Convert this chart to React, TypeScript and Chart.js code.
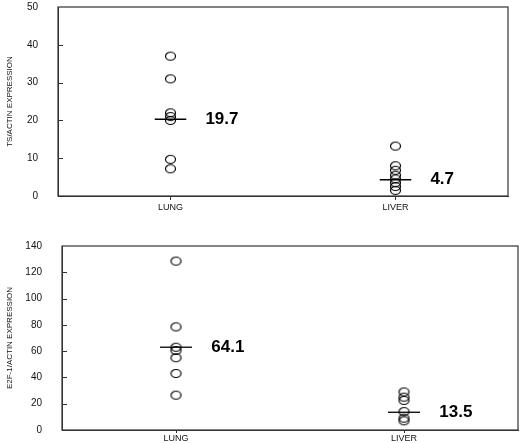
import React, { useEffect, useRef } from "react";
import { Chart, registerables } from "chart.js";

Chart.register(...registerables);

// ---- data ----
const categories = ["LUNG", "LIVER"];
const categoryPositions = [1, 3];

// Top panel: TS/ACTIN expression
const tsLung = [37, 31, 22, 21, 20, 9.7, 7.2];
const tsLiver = [13.2, 8, 6.8, 5.5, 4.5, 3.5, 2.5, 1.5];
const tsMeans = [20.3, 4.3];
const tsMeanLabels = ["19.7", "4.7"];
const tsTicks = [0, 10, 20, 30, 40, 50];

// Bottom panel: E2F-1/ACTIN expression
const e2fLung = [128.5, 78.5, 63, 60.5, 55, 43, 26.5];
const e2fLiver = [29, 25, 22.5, 14, 9, 7];
const e2fMeans = [63, 13.5];
const e2fMeanLabels = ["64.1", "13.5"];
const e2fTicks = [0, 20, 40, 60, 80, 100, 120, 140];

const FONT = "'Liberation Sans', Arial, sans-serif";
const INK = "#111";

function makeEllipse(): HTMLCanvasElement {
  const c = document.createElement("canvas");
  c.width = 13;
  c.height = 11;
  const g = c.getContext("2d")!;
  g.strokeStyle = "#000";
  g.lineWidth = 1.2;
  g.beginPath();
  g.ellipse(6.5, 5.5, 5, 4, 0, 0, Math.PI * 2);
  g.stroke();
  return c;
}

const boxPlugin = {
  id: "boxPlugin",
  afterDraw(chart: any) {
    const { ctx, chartArea } = chart;
    const ys = chart.scales.y;
    ctx.save();
    ctx.strokeStyle = "#333";
    ctx.lineWidth = 1.2;
    ctx.strokeRect(chartArea.left, chartArea.top, chartArea.right - chartArea.left, chartArea.bottom - chartArea.top);
    // inward tick marks on the y axis
    ctx.lineWidth = 1;
    ctx.beginPath();
    ys.ticks.forEach((t: any, i: number) => {
      if (i === 0 || i === ys.ticks.length - 1) return;
      const y = Math.round(ys.getPixelForValue(t.value)) + 0.5;
      ctx.moveTo(chartArea.left, y);
      ctx.lineTo(chartArea.left + 5, y);
    });
    ctx.stroke();
    ctx.restore();
  },
};

const makeLabelPlugin = (means: number[], labels: string[]) => ({
  id: "meanLabels",
  afterDatasetsDraw(chart: any) {
    const { ctx } = chart;
    const xs = chart.scales.x;
    const ys = chart.scales.y;
    ctx.save();
    ctx.fillStyle = "#000";
    ctx.font = `bold 17px ${FONT}`;
    ctx.textAlign = "left";
    ctx.textBaseline = "middle";
    means.forEach((m, i) => {
      const x = xs.getPixelForValue(categoryPositions[i] + 0.31);
      const y = ys.getPixelForValue(m);
      ctx.fillText(labels[i], x, y);
    });
    ctx.restore();
  },
});

interface PanelProps {
  height: number;
  lung: number[];
  liver: number[];
  means: number[];
  meanLabels: string[];
  ticks: number[];
  title: string;
  padTop: number;
  padRight: number;
  yWidth: number;
  xHeight: number;
  xTickLen: number;
  xTickPad: number;
}

function Panel(p: PanelProps) {
  const ref = useRef<HTMLCanvasElement>(null);
  useEffect(() => {
    const pointImg = makeEllipse();
    const pts = (vals: number[], pos: number) => vals.map((v) => ({ x: pos, y: v }));
    const meanLine = (m: number, pos: number) => [
      { x: pos - 0.14, y: m },
      { x: pos + 0.14, y: m },
    ];
    const chart = new Chart(ref.current!, {
      type: "scatter",
      data: {
        datasets: [
          { data: pts(p.lung, categoryPositions[0]), pointStyle: pointImg as any, pointRadius: 5 },
          { data: pts(p.liver, categoryPositions[1]), pointStyle: pointImg as any, pointRadius: 5 },
          {
            type: "line" as any,
            data: meanLine(p.means[0], categoryPositions[0]),
            borderColor: "#000",
            borderWidth: 1.3,
            pointRadius: 0,
          },
          {
            type: "line" as any,
            data: meanLine(p.means[1], categoryPositions[1]),
            borderColor: "#000",
            borderWidth: 1.3,
            pointRadius: 0,
          },
        ],
      },
      options: {
        animation: false,
        responsive: false,
        maintainAspectRatio: false,
        layout: { autoPadding: false, padding: { top: p.padTop, right: p.padRight, left: 0, bottom: 0 } },
        plugins: { legend: { display: false }, tooltip: { enabled: false } },
        scales: {
          x: {
            type: "linear",
            min: 0,
            max: 4,
            afterBuildTicks: (s: any) => {
              s.ticks = categoryPositions.map((v) => ({ value: v }));
            },
            afterFit: (s: any) => {
              s.height = p.xHeight;
              s.paddingLeft = 0;
              s.paddingRight = 0;
            },
            ticks: {
              autoSkip: false,
              maxRotation: 0,
              padding: p.xTickPad,
              color: INK,
              font: { family: FONT, size: 9 },
              callback: (v: any) => {
                const i = categoryPositions.indexOf(Number(v));
                return i >= 0 ? categories[i] : "";
              },
            },
            grid: { display: true, drawOnChartArea: false, tickLength: p.xTickLen, color: "#333" },
            border: { display: true, color: "#333" },
          },
          y: {
            min: p.ticks[0],
            max: p.ticks[p.ticks.length - 1],
            afterBuildTicks: (s: any) => {
              s.ticks = p.ticks.map((v) => ({ value: v }));
            },
            afterFit: (s: any) => {
              s.width = p.yWidth;
              s.paddingTop = 0;
              s.paddingBottom = 0;
            },
            ticks: {
              padding: 12,
              color: INK,
              font: { family: FONT, size: 10 },
            },
            grid: { display: false },
            border: { display: true, color: "#333" },
            title: {
              display: true,
              text: p.title,
              color: INK,
              font: { family: FONT, size: 8 },
              padding: { top: 5, bottom: 0 },
            },
          },
        },
      },
      plugins: [boxPlugin, makeLabelPlugin(p.means, p.meanLabels)],
    } as any);
    return () => chart.destroy();
  }, []);
  return <canvas ref={ref} width={520} height={p.height} style={{ display: "block", width: 520, height: p.height }} />;
}

export default function App() {
  return (
    <div style={{ position: "absolute", left: 0, top: 0, width: 520, height: 443, background: "#fff" }}>
      <Panel
        height={216}
        lung={tsLung}
        liver={tsLiver}
        means={tsMeans}
        meanLabels={tsMeanLabels}
        ticks={tsTicks}
        title="TS/ACTIN EXPRESSION"
        padTop={7}
        padRight={12}
        yWidth={58}
        xHeight={20}
        xTickLen={4}
        xTickPad={2}
      />
      <Panel
        height={227}
        lung={e2fLung}
        liver={e2fLiver}
        means={e2fMeans}
        meanLabels={e2fMeanLabels}
        ticks={e2fTicks}
        title="E2F-1/ACTIN EXPRESSION"
        padTop={30}
        padRight={2}
        yWidth={62}
        xHeight={13}
        xTickLen={3}
        xTickPad={0}
      />
    </div>
  );
}
